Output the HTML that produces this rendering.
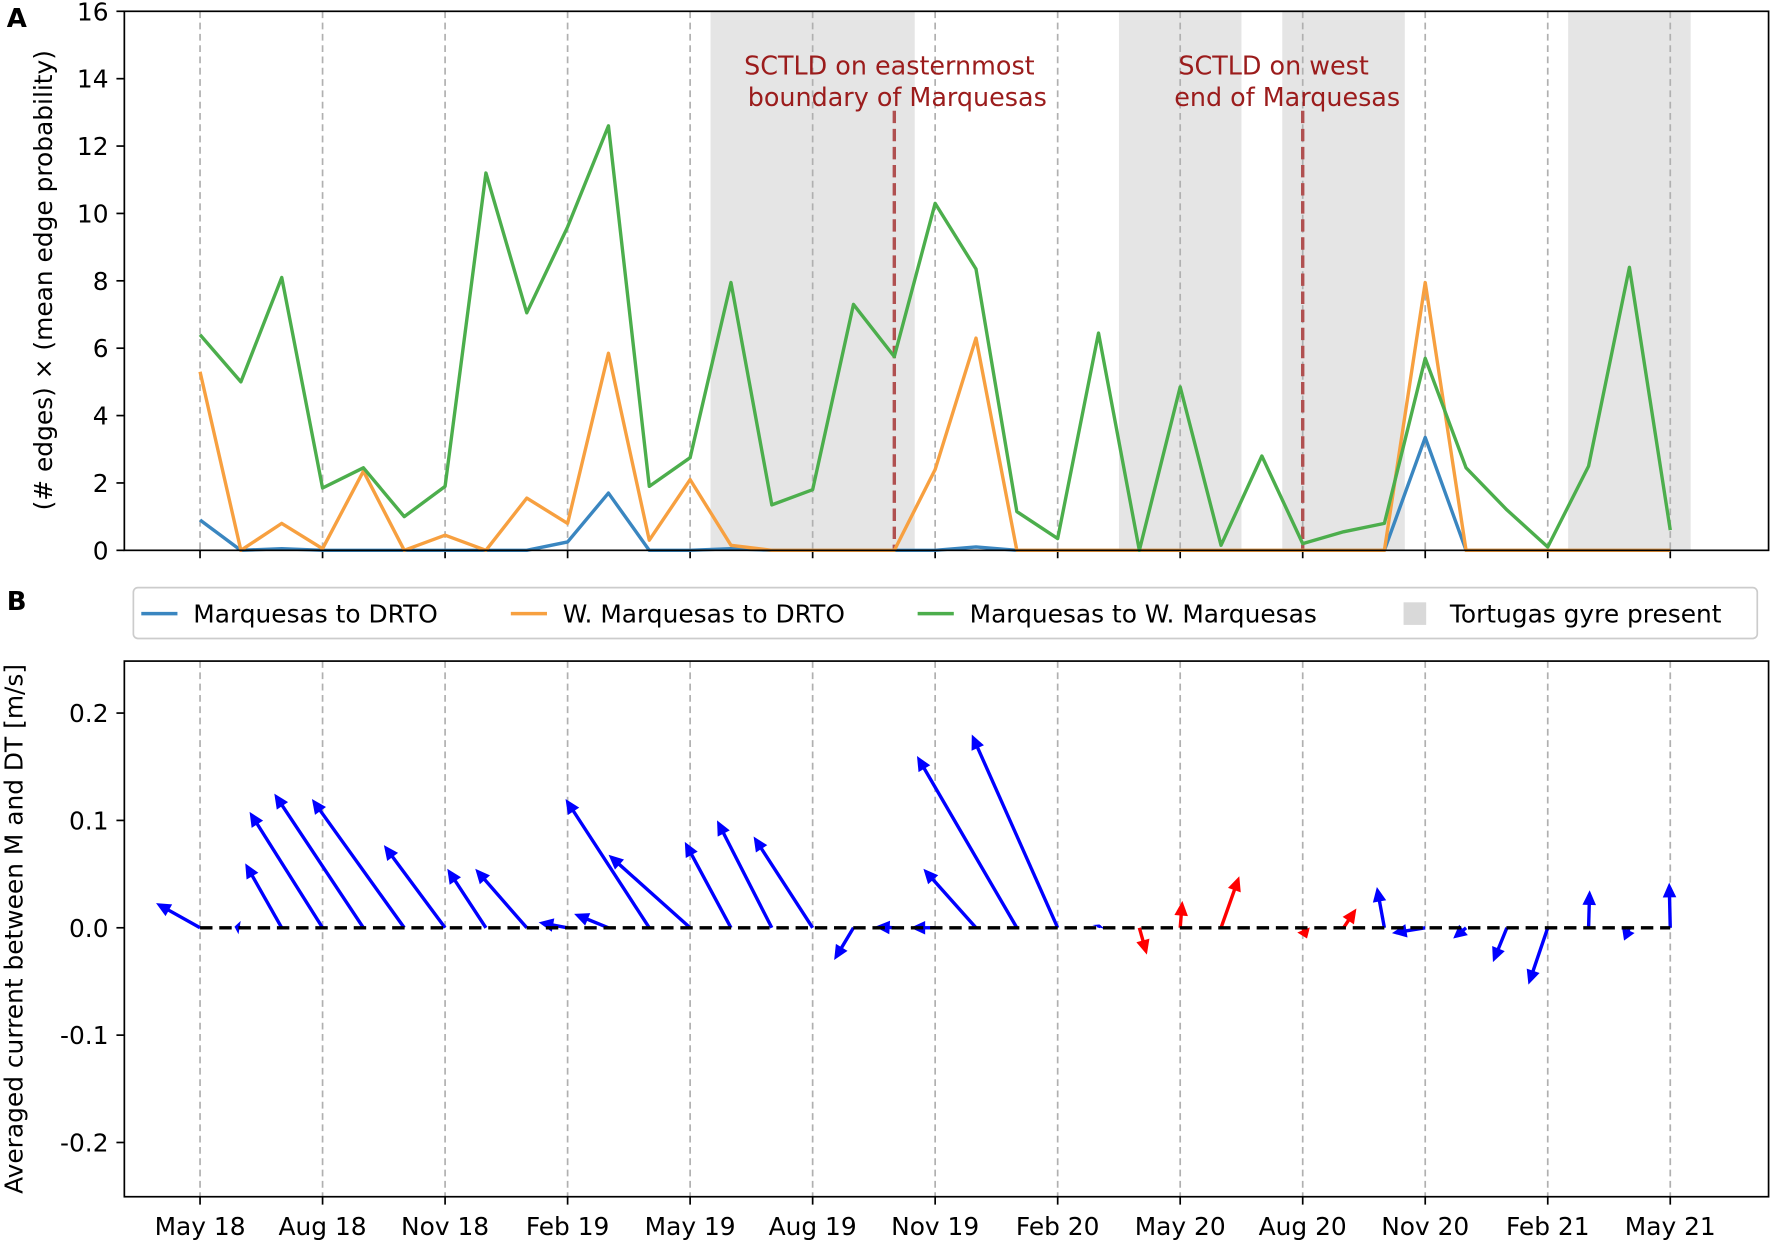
<!DOCTYPE html>
<html><head><meta charset="utf-8"><style>
body{margin:0;background:#fff}
svg{display:block}
svg text{font-family:"DejaVu Sans","Liberation Sans",sans-serif}
</style></head><body>
<svg id="c" width="1772" height="1246" viewBox="0 0 1568 1102.6" xmlns="http://www.w3.org/2000/svg"></svg>
<script>
const tickLabels=["May 18","Aug 18","Nov 18","Feb 19","May 19","Aug 19","Nov 19","Feb 20","May 20","Aug 20","Nov 20","Feb 21","May 21"];
const green=[6.4,5.0,8.1,1.85,2.45,1.0,1.9,11.2,7.05,9.6,12.6,1.9,2.75,7.95,1.35,1.8,7.3,5.75,10.3,8.35,1.15,0.35,6.45,0.0,4.85,0.15,2.8,0.2,0.55,0.8,5.7,2.45,1.2,0.1,2.5,8.4,0.6];
const orange=[5.3,0,0.8,0.05,2.35,0,0.45,0,1.55,0.8,5.85,0.3,2.1,0.15,0,0,0,0,2.4,6.3,0,0,0,0,0,0,0,0,0,0,7.95,0,0,0,0,0,0];
const blue=[0.9,0,0.05,0,0,0,0,0,0,0.25,1.7,0,0,0.05,0,0,0,0,0,0.1,0,0,0,0,0,0,0,0,0,0,3.35,0,0,0,0,0,0];
const gyre=[[12.5,17.5],[22.5,25.5],[26.5,29.5],[33.5,36.5]];
const sctld=[17,27];
const curU=[-0.041,-0.006,-0.034,-0.068,-0.083,-0.086,-0.057,-0.036,-0.048,-0.027,-0.032,-0.078,-0.076,-0.043,-0.051,-0.055,-0.018,-0.018,-0.023,-0.049,-0.093,-0.08,0.001,0.007,0.002,0.017,0,0.004,0.012,-0.007,-0.031,-0.012,-0.013,-0.018,0.001,-0.005,-0.001];
const curV=[0.023,0.001,0.06,0.108,0.125,0.12,0.077,0.055,0.055,0.005,0.013,0.12,0.068,0.08,0.1,0.085,-0.03,0.001,0.0,0.055,0.16,0.18,0.003,-0.025,0.025,0.048,0,-0.01,0.018,0.038,-0.005,-0.01,-0.032,-0.053,0.035,-0.012,0.042];
const yTicksA=[0,2,4,6,8,10,12,14,16];
const yTicksB=[-0.2,-0.1,0.0,0.1,0.2];

const NS="http://www.w3.org/2000/svg";const svg=document.getElementById('c');
function el(t,a,p){const e=document.createElementNS(NS,t);for(const k in a)e.setAttribute(k,a[k]);(p||svg).appendChild(e);return e;}
const L=110,R=1565;
const xm=i=>177+i*(1478-177)/36;
const ya=v=>487-v*(477/16);
const yb=v=>821-v*950;
gyre.forEach(g=>{const r=el('rect',{x:xm(g[0]),y:10,width:xm(g[1])-xm(g[0]),height:477,fill:'#e5e5e5'});

});
tickLabels.forEach((t,k)=>{const x=xm(k*3);
[[10,487],[585,1059]].forEach(s=>{const l=el('line',{x1:x,x2:x,y1:s[0],y2:s[1],stroke:'#b0b0b0','stroke-width':1.5,'stroke-dasharray':'6,4'});

});
el('line',{x1:x,x2:x,y1:487,y2:494,stroke:'#000','stroke-width':1.5});
el('line',{x1:x,x2:x,y1:1059,y2:1066,stroke:'#000','stroke-width':1.5});
const tx=el('text',{x:x,y:1093,'text-anchor':'middle','font-size':22});tx.textContent=t;

});
sctld.forEach(i=>{const l=el('line',{x1:xm(i),x2:xm(i),y1:98,y2:487,stroke:'#b05050','stroke-width':3,'stroke-dasharray':'11,5'});

});
function txt(s,x,y,o){const t=el('text',Object.assign({x:x,y:y,'font-size':22},o||{}));t.textContent=s;return t;}
let a1=txt('SCTLD on easternmost',787,66,{'text-anchor':'middle',fill:'#9b1c1c','font-size':22.5});


txt('boundary of Marquesas',794,94,{'text-anchor':'middle',fill:'#9b1c1c','font-size':22.5});
let a2=txt('SCTLD on west',1127,66,{'text-anchor':'middle',fill:'#9b1c1c','font-size':22.5});


txt('end of Marquesas',1139,94,{'text-anchor':'middle',fill:'#9b1c1c','font-size':22.5});
function line(d,c,n){const p=el('polyline',{points:d.map((v,i)=>xm(i)+','+ya(v)).join(' '),fill:'none',stroke:c,'stroke-width':3,'stroke-linejoin':'round'});

}
line(blue,'#3a86c0','series-marquesas-drto');
line(orange,'#f7a040','series-w-marquesas-drto');
line(green,'#4cae4c','series-marquesas-w-marquesas');
[[10,487],[585,1059]].forEach(s=>{const r=el('rect',{x:L,y:s[0],width:R-L,height:s[1]-s[0],fill:'none',stroke:'#000','stroke-width':1.5});

});
yTicksA.forEach(v=>{el('line',{x1:L-7,x2:L,y1:ya(v),y2:ya(v),stroke:'#000','stroke-width':1.5});
const t=txt(String(v),96,ya(v)+8,{'text-anchor':'end'});

});
yTicksB.forEach(v=>{el('line',{x1:L-7,x2:L,y1:yb(v),y2:yb(v),stroke:'#000','stroke-width':1.5});
const t=txt(v.toFixed(1),96,yb(v)+8,{'text-anchor':'end'});

});
let yl=txt('(# edges) × (mean edge probability)',0,0,{'text-anchor':'middle',transform:'translate(46,248) rotate(-90)'});


let yl2=txt('Averaged current between M and  DT [m/s]',0,0,{'text-anchor':'middle',transform:'translate(20,822) rotate(-90)'});


let pa=txt('A',6,24,{'font-weight':'bold','font-size':23});


let pb=txt('B',6,540,{'font-weight':'bold','font-size':23});


const lg=el('g',{});


el('rect',{x:118,y:520,width:1437,height:45,rx:4,fill:'#fff',stroke:'#ccc','stroke-width':1.5},lg);
[['Marquesas to DRTO','#3a86c0',125],['W. Marquesas to DRTO','#f7a040',452],['Marquesas to W. Marquesas','#4cae4c',812]].forEach(e=>{
el('line',{x1:e[2],x2:e[2]+32,y1:543,y2:543,stroke:e[1],'stroke-width':3},lg);
const t=el('text',{x:e[2]+46,y:551,'font-size':22},lg);t.textContent=e[0];

});
el('rect',{x:1242,y:533,width:20,height:20,fill:'#d9d9d9'},lg);
const gt=el('text',{x:1283,y:551,'font-size':22},lg);gt.textContent='Tortugas gyre present';


curU.forEach((u,i)=>{const x0=xm(i),y0=yb(0),x1=x0+u*950,y1=yb(curV[i]);
const dx=x1-x0,dy=y1-y0,len=Math.hypot(dx,dy);if(len<2)return;
const c=u>0.001?'#f00':'#00f';const ux=dx/len,uy=dy/len,h=Math.min(13,len*0.8),w=6;
const bx=x1-ux*h,by=y1-uy*h;
const g=el('g',{});


el('line',{x1:x0,y1:y0,x2:bx+ux*2,y2:by+uy*2,stroke:c,'stroke-width':3},g);
el('polygon',{points:`${x1},${y1} ${bx-uy*w},${by+ux*w} ${bx+uy*w},${by-ux*w}`,fill:c},g);});
const zl=el('line',{x1:xm(0),x2:xm(36),y1:yb(0),y2:yb(0),stroke:'#000','stroke-width':3,'stroke-dasharray':'11,6'});


</script>
</body></html>
